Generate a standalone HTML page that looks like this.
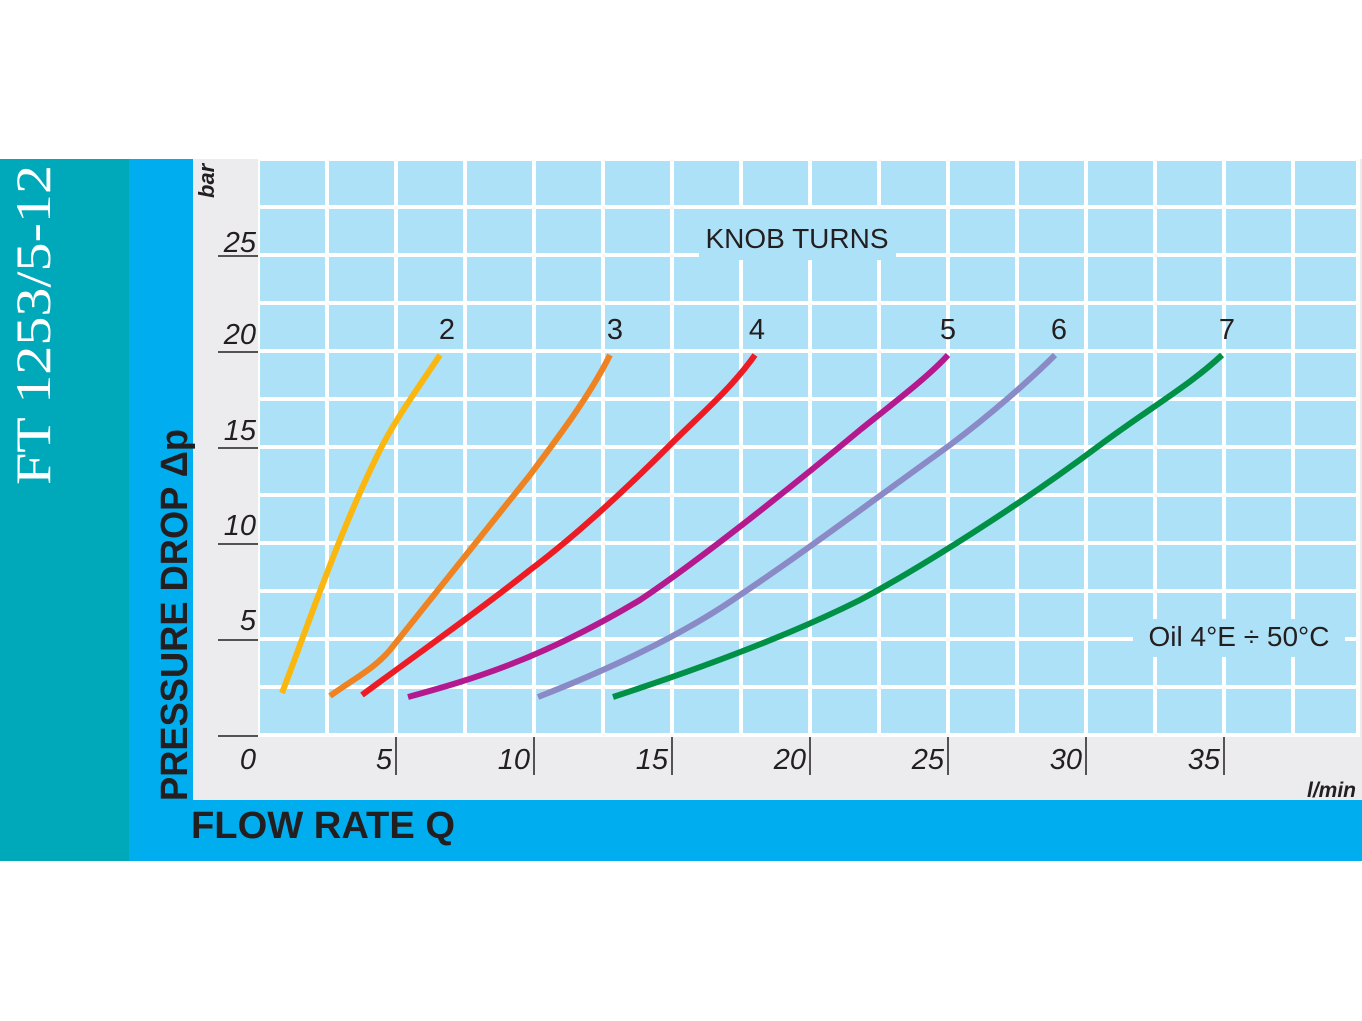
<!DOCTYPE html>
<html><head><meta charset="utf-8"><style>html,body{margin:0;padding:0;background:#fff}svg{display:block}</style></head><body>
<svg width="1362" height="1021" viewBox="0 0 1362 1021" xmlns="http://www.w3.org/2000/svg" font-family="Liberation Sans, sans-serif">
<rect x="0" y="159" width="129" height="702" fill="#00a9b9"/>
<rect x="129" y="159" width="1233" height="702" fill="#00aeef"/>
<rect x="193" y="159" width="1169" height="641" fill="#ececee"/>
<rect x="258" y="159" width="1102" height="578" fill="#fff"/>
<g fill="#ade1f8">
<script type="text/javascript">/* none */</script>
</g>
<g id="cells"></g>
<g fill="#ade1f8">
<!-- cells generated statically -->
</g>
<g stroke="#fff" stroke-width="4">
</g>
<rect x="260" y="161" width="1096" height="572" fill="#ade1f8"/>
<g stroke="#fff" stroke-width="4">
<line x1="327" y1="159" x2="327" y2="737"/><line x1="396" y1="159" x2="396" y2="737"/><line x1="465" y1="159" x2="465" y2="737"/><line x1="534" y1="159" x2="534" y2="737"/><line x1="603" y1="159" x2="603" y2="737"/><line x1="672" y1="159" x2="672" y2="737"/><line x1="741" y1="159" x2="741" y2="737"/><line x1="810" y1="159" x2="810" y2="737"/><line x1="879" y1="159" x2="879" y2="737"/><line x1="948" y1="159" x2="948" y2="737"/><line x1="1017" y1="159" x2="1017" y2="737"/><line x1="1086" y1="159" x2="1086" y2="737"/><line x1="1155" y1="159" x2="1155" y2="737"/><line x1="1224" y1="159" x2="1224" y2="737"/><line x1="1293" y1="159" x2="1293" y2="737"/>
<line x1="258" y1="207" x2="1360" y2="207"/><line x1="258" y1="255" x2="1360" y2="255"/><line x1="258" y1="303" x2="1360" y2="303"/><line x1="258" y1="351" x2="1360" y2="351"/><line x1="258" y1="399" x2="1360" y2="399"/><line x1="258" y1="447" x2="1360" y2="447"/><line x1="258" y1="495" x2="1360" y2="495"/><line x1="258" y1="543" x2="1360" y2="543"/><line x1="258" y1="591" x2="1360" y2="591"/><line x1="258" y1="639" x2="1360" y2="639"/><line x1="258" y1="687" x2="1360" y2="687"/>
</g>
<rect x="699" y="209" width="197" height="51" fill="#ade1f8"/>
<rect x="1133" y="619" width="212" height="38" fill="#ade1f8"/>
<g fill="none" stroke-width="6" stroke-linecap="butt">
<path d="M282,693 C310,620 340,530 380,450 C395,420 420,385 440,355" stroke="#f9b710"/>
<path d="M330,696 C355,678 375,668 390,650 C420,612 470,550 530,475 C560,435 590,395 610,355" stroke="#f08321"/>
<path d="M362,695 C420,652 480,610 530,570 C570,540 620,495 670,445 C700,415 730,390 755,355" stroke="#ed1c24"/>
<path d="M408,697 C470,680 540,660 640,600 C700,560 800,480 860,430 C900,398 930,375 948,355" stroke="#b5198e"/>
<path d="M538,697 C620,665 690,630 740,595 C800,555 860,510 950,445 C990,415 1030,380 1055,355" stroke="#8a8ac6"/>
<path d="M613,697 C720,662 800,630 860,600 C920,568 1020,505 1100,445 C1150,408 1190,385 1222,355" stroke="#009146"/>
</g>
<g font-size="29" fill="#231f20" text-anchor="middle">
<text x="447" y="339">2</text><text x="615" y="339">3</text><text x="757" y="339">4</text><text x="948" y="339">5</text><text x="1059" y="339">6</text><text x="1227" y="339">7</text>
</g>
<text x="797" y="248" font-size="28" fill="#231f20" text-anchor="middle">KNOB TURNS</text>
<text x="1239" y="646" font-size="28" fill="#231f20" text-anchor="middle">Oil 4°E ÷ 50°C</text>
<g font-size="29" font-style="italic" fill="#231f20" text-anchor="end">
<text x="256" y="252">25</text><text x="256" y="344">20</text><text x="256" y="440">15</text><text x="256" y="535">10</text><text x="256" y="630">5</text>
<text x="256" y="769">0</text><text x="392" y="769">5</text><text x="530" y="769">10</text><text x="668" y="769">15</text><text x="806" y="769">20</text><text x="944" y="769">25</text><text x="1082" y="769">30</text><text x="1220" y="769">35</text>
</g>
<g stroke="#231f20" stroke-width="1.5">
<line x1="218" y1="256" x2="258" y2="256"/><line x1="218" y1="352" x2="258" y2="352"/><line x1="218" y1="448" x2="258" y2="448"/><line x1="218" y1="544" x2="258" y2="544"/><line x1="218" y1="640" x2="258" y2="640"/><line x1="218" y1="736" x2="258" y2="736"/>
<line x1="396" y1="737" x2="396" y2="775"/><line x1="534" y1="737" x2="534" y2="775"/><line x1="672" y1="737" x2="672" y2="775"/><line x1="810" y1="737" x2="810" y2="775"/><line x1="948" y1="737" x2="948" y2="775"/><line x1="1086" y1="737" x2="1086" y2="775"/><line x1="1224" y1="737" x2="1224" y2="775"/>
</g>
<text transform="translate(214,198) rotate(-90)" font-size="22" font-style="italic" font-weight="bold" fill="#231f20">bar</text>
<text x="1356" y="797" font-size="21" font-style="italic" font-weight="bold" fill="#231f20" text-anchor="end">l/min</text>
<text transform="translate(50,485) rotate(-90)" font-family="Liberation Serif, serif" font-size="50" fill="#fff" textLength="320" lengthAdjust="spacingAndGlyphs">FT 1253/5-12</text>
<text transform="translate(187,801) rotate(-90)" font-size="38" font-weight="bold" fill="#231f20" textLength="372" lengthAdjust="spacingAndGlyphs">PRESSURE DROP Δp</text>
<text x="191" y="838" font-size="38" font-weight="bold" fill="#231f20" textLength="264" lengthAdjust="spacingAndGlyphs">FLOW RATE Q</text>
</svg>
</body></html>
